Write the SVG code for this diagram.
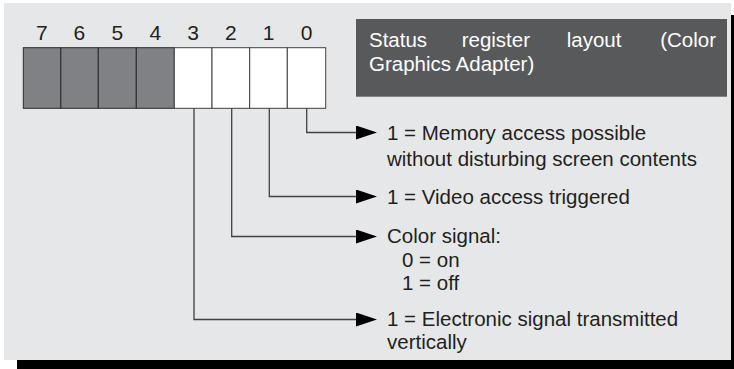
<svg xmlns="http://www.w3.org/2000/svg" width="734" height="369" viewBox="0 0 734 369">
<defs>
<marker id="arr" viewBox="0 0 21 14" refX="0" refY="7" markerWidth="21" markerHeight="14" orient="auto" markerUnits="userSpaceOnUse">
<path d="M0,0 L21,7 L0,14 z" fill="#000"/>
</marker>
<style>
.t{font-family:"Liberation Sans",Arial,sans-serif;font-size:20.5px;fill:#231f20}
.d{font-family:"Liberation Sans",Arial,sans-serif;font-size:21px;fill:#231f20;text-anchor:middle}
.w{font-family:"Liberation Sans",Arial,sans-serif;font-size:20.5px;fill:#ffffff}
.hi{fill:#808184;stroke:#2b2b2b;stroke-width:1}
.lo{fill:#ffffff;stroke:#414042;stroke-width:1}
.c{fill:none;stroke:#414042;stroke-width:1.3;marker-end:url(#arr)}
</style>
</defs>
<rect x="17" y="15" width="717" height="354" fill="#000"/>
<rect x="4" y="3" width="727" height="357" fill="#e6e7e8"/>
<g id="register">
<rect class="hi" x="23.3" y="47.7" width="37.5" height="60.6"/>
<rect class="hi" x="60.8" y="47.7" width="37.5" height="60.6"/>
<rect class="hi" x="98.3" y="47.7" width="38" height="60.6"/>
<rect class="hi" x="136.3" y="47.7" width="38" height="60.6"/>
<rect class="lo" x="174.3" y="47.7" width="37.7" height="60.6"/>
<rect class="lo" x="212" y="47.7" width="37.7" height="60.6"/>
<rect class="lo" x="249.7" y="47.7" width="37.6" height="60.6"/>
<rect class="lo" x="287.3" y="47.7" width="38.4" height="60.6"/>
<text class="d" x="41.8" y="39.5">7</text>
<text class="d" x="79.3" y="39.5">6</text>
<text class="d" x="117.3" y="39.5">5</text>
<text class="d" x="155.3" y="39.5">4</text>
<text class="d" x="193.2" y="39.5">3</text>
<text class="d" x="230.8" y="39.5">2</text>
<text class="d" x="268.5" y="39.5">1</text>
<text class="d" x="306.5" y="39.5">0</text>
</g>
<g id="title">
<rect x="356" y="19" width="371" height="77.7" fill="#58595b"/>
<text class="w" x="369" y="46.7">Status</text>
<text class="w" x="461.7" y="46.7">register</text>
<text class="w" x="566.7" y="46.7">layout</text>
<text class="w" x="716" y="46.7" text-anchor="end">(Color</text>
<text class="w" x="369" y="71">Graphics Adapter)</text>
</g>
<g id="connectors">
<path class="c" d="M306.7,108.3 V132.5 H356"/>
<path class="c" d="M269.3,108.3 V196.5 H356"/>
<path class="c" d="M231.7,108.3 V236.5 H356"/>
<path class="c" d="M194,108.3 V319.5 H356"/>
</g>
<g id="bit0">
<text class="t" x="387" y="140">1 = Memory access possible</text>
<text class="t" x="387" y="165.5">without disturbing screen contents</text>
</g>
<g id="bit1">
<text class="t" x="387" y="203.5">1 = Video access triggered</text>
</g>
<g id="bit2">
<text class="t" x="387" y="243">Color signal:</text>
<text class="t" x="402" y="266.5">0 = on</text>
<text class="t" x="402" y="290">1 = off</text>
</g>
<g id="bit3">
<text class="t" x="387" y="326">1 = Electronic signal transmitted</text>
<text class="t" x="387" y="349">vertically</text>
</g>
</svg>
